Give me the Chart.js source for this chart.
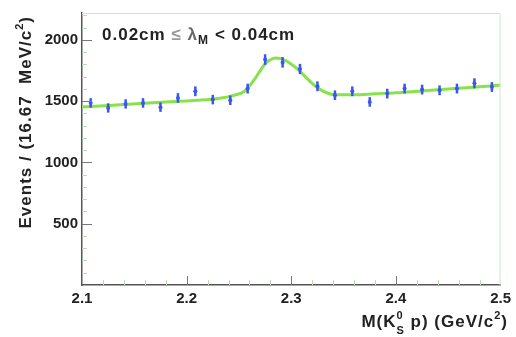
<!DOCTYPE html>
<html>
<head>
<meta charset="utf-8">
<script src="https://cdn.jsdelivr.net/npm/chart.js@4.4.1/dist/chart.umd.min.js"></script>
<style>
  body { margin: 0; background: #fff; }
  #wrap { width: 516px; height: 337px; }
</style>
</head>
<body>
<div id="wrap"><canvas id="c"></canvas></div>
<script>
// Центры бинов (ГэВ), 24 бина по 16.67 МэВ
const binCenters = [2.1083, 2.1250, 2.1417, 2.1583, 2.1750, 2.1917, 2.2083, 2.2250,
    2.2417, 2.2583, 2.2750, 2.2917, 2.3083, 2.3250, 2.3417, 2.3583,
    2.3750, 2.3917, 2.4083, 2.4250, 2.4417, 2.4583, 2.4750, 2.4917];
const counts = [1486, 1445, 1478, 1486, 1451, 1527, 1581, 1513,
    1508, 1603, 1840, 1817, 1763, 1622, 1549, 1581,
    1494, 1562, 1603, 1595, 1589, 1603, 1646, 1616];
const errors = [39, 38, 38, 39, 38, 39, 40, 39,
    39, 40, 43, 43, 42, 40, 39, 40,
    39, 40, 40, 40, 40, 40, 41, 40];

// Кривая фита
const fitX = [2.100, 2.130, 2.160, 2.190, 2.210, 2.230, 2.245, 2.255, 2.260, 2.265,
    2.270, 2.275, 2.280, 2.285, 2.290, 2.295, 2.300, 2.305, 2.310, 2.315,
    2.320, 2.325, 2.330, 2.335, 2.340, 2.360, 2.380, 2.400, 2.430, 2.460, 2.500];
const fitY = [1452, 1468, 1484, 1497, 1507, 1522, 1548, 1580, 1625, 1680,
    1745, 1805, 1838, 1852, 1848, 1830, 1802, 1770, 1730, 1686,
    1645, 1610, 1584, 1565, 1555, 1552, 1561, 1569, 1588, 1605, 1632];

const yTicks = [500, 1000, 1500, 2000];
const xTicks = [2.1, 2.2, 2.3, 2.4, 2.5];

const FONT = '"Liberation Sans", Arial, sans-serif';

// Рамка, засечки, ошибки и подписи
const decor = {
    id: 'decor',
    afterDatasetsDraw(chart) {
        const ctx = chart.ctx;
        const a = chart.chartArea;
        const xs = chart.scales.x, ys = chart.scales.y;
        ctx.save();

        // ошибки
        ctx.strokeStyle = '#3a55f0';
        ctx.lineWidth = 2.5;
        binCenters.forEach((x, i) => {
            const px = xs.getPixelForValue(x);
            ctx.beginPath();
            ctx.moveTo(px, ys.getPixelForValue(counts[i] - errors[i]));
            ctx.lineTo(px, ys.getPixelForValue(counts[i] + errors[i]));
            ctx.stroke();
        });

        // рамка сверху и справа
        ctx.strokeStyle = '#c8ecc8';
        ctx.lineWidth = 1;
        ctx.beginPath();
        ctx.moveTo(a.left, a.top + 0.5);
        ctx.lineTo(a.right - 0.5, a.top + 0.5);
        ctx.lineTo(a.right - 0.5, a.bottom);
        ctx.stroke();

        // засечки по Y
        for (let v = 100; v <= 2200; v += 100) {
            const py = Math.round(ys.getPixelForValue(v)) + 0.5;
            const major = v % 500 === 0;
            ctx.strokeStyle = major ? '#777' : '#b8dcc0';
            ctx.beginPath();
            ctx.moveTo(a.left, py);
            ctx.lineTo(a.left + (major ? 10 : 5), py);
            ctx.stroke();
        }
        // засечки по X
        for (let k = 1; k < 20; k++) {
            const px = Math.round(xs.getPixelForValue(2.1 + k * 0.02)) + 0.5;
            const major = k % 5 === 0;
            ctx.strokeStyle = major ? '#777' : '#b8dcc0';
            ctx.beginPath();
            ctx.moveTo(px, a.bottom);
            ctx.lineTo(px, a.bottom - (major ? 9 : 5));
            ctx.stroke();
        }

        // надпись в поле графика
        ctx.letterSpacing = '1px';
        ctx.fillStyle = '#222';
        ctx.textBaseline = 'alphabetic';
        ctx.textAlign = 'left';
        let x = 102;
        const base = 40;
        ctx.font = 'bold 17px ' + FONT;
        ctx.fillText('0.02cm ', x, base); x += ctx.measureText('0.02cm ').width;
        ctx.fillStyle = '#999';
        ctx.fillText('≤ ', x, base); x += ctx.measureText('≤ ').width;
        ctx.fillStyle = '#666';
        ctx.fillText('λ', x, base); x += ctx.measureText('λ').width;
        ctx.fillStyle = '#222';
        ctx.font = 'bold 12px ' + FONT;
        ctx.fillText('M', x, base + 4); x += ctx.measureText('M').width + 6;
        ctx.font = 'bold 17px ' + FONT;
        ctx.fillText('< 0.04cm', x, base);

        // подпись оси X (выровнена по правому краю)
        const p1 = 'M(K', p2 = ' p) (GeV/c', p3 = ')';
        ctx.font = 'bold 17px ' + FONT;
        const w1 = ctx.measureText(p1).width, w2 = ctx.measureText(p2).width, w3 = ctx.measureText(p3).width;
        ctx.font = 'bold 11px ' + FONT;
        const wS = ctx.measureText('S').width, w0 = ctx.measureText('0').width, w2s = ctx.measureText('2').width;
        const total = w1 + Math.max(wS, w0) + w2 + w2s + w3;
        const xb = 327;
        x = 508 - total;
        ctx.font = 'bold 17px ' + FONT;
        ctx.fillText(p1, x, xb); x += w1;
        ctx.font = 'bold 11px ' + FONT;
        ctx.fillText('0', x, xb - 8);
        ctx.fillText('S', x, xb + 7); x += Math.max(wS, w0);
        ctx.font = 'bold 17px ' + FONT;
        ctx.fillText(p2, x, xb); x += w2;
        ctx.font = 'bold 11px ' + FONT;
        ctx.fillText('2', x, xb - 8); x += w2s;
        ctx.font = 'bold 17px ' + FONT;
        ctx.fillText(p3, x, xb);

        // подпись оси Y (повернута, выровнена к верху)
        ctx.translate(31, 16);
        ctx.rotate(-Math.PI / 2);
        const q1 = 'Events / (16.67  MeV/c', q3 = ')';
        ctx.font = 'bold 17px ' + FONT;
        const wq1 = ctx.measureText(q1).width, wq3 = ctx.measureText(q3).width;
        ctx.font = 'bold 11px ' + FONT;
        const wq2 = ctx.measureText('2').width;
        let y = -(wq1 + wq2 + wq3);
        ctx.font = 'bold 17px ' + FONT;
        ctx.fillText(q1, y, 0); y += wq1;
        ctx.font = 'bold 11px ' + FONT;
        ctx.fillText('2', y, -8); y += wq2;
        ctx.font = 'bold 17px ' + FONT;
        ctx.fillText(q3, y, 0);

        ctx.restore();
    }
};

new Chart(document.getElementById('c'), {
    type: 'scatter',
    data: {
        datasets: [{
            type: 'line',
            data: fitX.map((x, i) => ({ x: x, y: fitY[i] })),
            borderColor: '#86e34a',
            borderWidth: 3,
            pointRadius: 0,
            cubicInterpolationMode: 'monotone',
            fill: false,
            order: 2
        }, {
            data: binCenters.map((x, i) => ({ x: x, y: counts[i] })),
            backgroundColor: '#3a55f0',
            borderWidth: 0,
            pointRadius: 2,
            order: 1
        }]
    },
    options: {
        responsive: true,
        maintainAspectRatio: false,
        animation: false,
        layout: { padding: { left: 0, right: 15, top: 12, bottom: 0 } },
        plugins: { legend: { display: false }, tooltip: { enabled: false } },
        scales: {
            x: {
                type: 'linear',
                min: 2.1,
                max: 2.5,
                afterBuildTicks: s => { s.ticks = xTicks.map(v => ({ value: v })); },
                afterFit: s => { s.height = 52; },
                grid: { display: false, drawTicks: false },
                border: { display: true, color: '#555', width: 1.5 },
                ticks: {
                    padding: 5,
                    color: '#222',
                    font: { family: FONT, size: 15, weight: 'bold' },
                    callback: v => v.toFixed(1),
                    maxRotation: 0
                }
            },
            y: {
                min: 0,
                max: 2220,
                afterBuildTicks: s => { s.ticks = yTicks.map(v => ({ value: v })); },
                afterFit: s => { s.width = 82; },
                grid: { display: false, drawTicks: false },
                border: { display: true, color: '#555', width: 1.5 },
                ticks: {
                    padding: 4,
                    color: '#222',
                    font: { family: FONT, size: 15, weight: 'bold' },
                    callback: v => String(v)
                }
            }
        }
    },
    plugins: [decor]
});
</script>
</body>
</html>
